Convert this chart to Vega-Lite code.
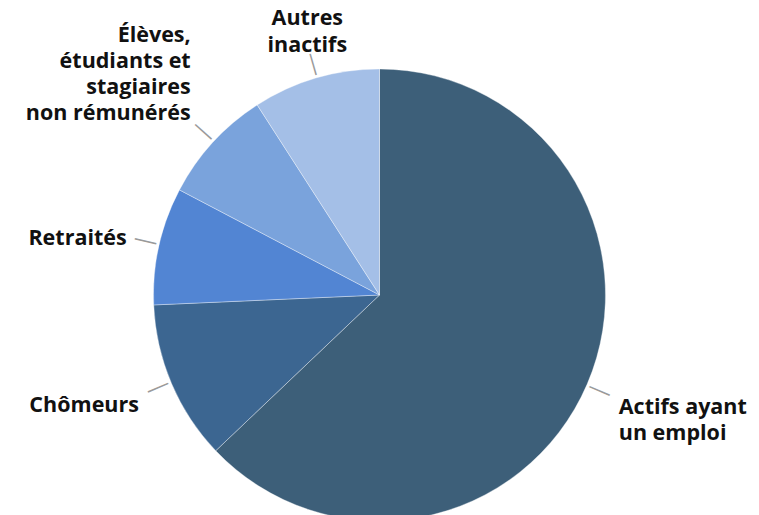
{
  "$schema": "https://vega.github.io/schema/vega-lite/v6.json",
  "width": 759,
  "height": 440,
  "autosize": "none",
  "padding": {"left": 0, "top": 75, "right": 0, "bottom": 0},
  "background": "white",
  "view": {"stroke": null},
  "data": {
    "values": [
      {"categorie": "Actifs ayant un emploi", "label": "Actifs ayant\nun emploi", "part": 62.9},
      {"categorie": "Chômeurs", "label": "Chômeurs", "part": 11.4},
      {"categorie": "Retraités", "label": "Retraités", "part": 8.4},
      {"categorie": "Élèves, étudiants et stagiaires non rémunérés", "label": "Élèves,\nétudiants et\nstagiaires\nnon rémunérés", "part": 8.2},
      {"categorie": "Autres inactifs", "label": "Autres\ninactifs", "part": 9.1}
    ]
  },
  "transform": [{"window": [{"op": "row_number", "as": "rang"}]}],
  "encoding": {
    "theta": {"field": "part", "type": "quantitative", "stack": true},
    "order": {"field": "rang", "type": "quantitative"},
    "detail": {"field": "categorie", "type": "nominal"}
  },
  "layer": [
    {
      "mark": {"type": "arc", "radius": 226, "stroke": "#ffffff", "strokeWidth": 0.6, "strokeOpacity": 0.6},
      "encoding": {
        "color": {
          "field": "categorie",
          "type": "nominal",
          "scale": {
            "domain": ["Actifs ayant un emploi", "Chômeurs", "Retraités", "Élèves, étudiants et stagiaires non rémunérés", "Autres inactifs"],
            "range": ["#3d5f79", "#3c6691", "#5285d3", "#7aa3dc", "#a4bfe7"]
          },
          "legend": null
        }
      }
    },
    {
      "mark": {"type": "text", "radius": 240, "text": "—", "font": "Liberation Sans", "fontSize": 22, "color": "#9a9a9a", "align": "center", "baseline": "middle"},
      "encoding": {
        "angle": {
          "condition": [
            {"test": "datum.categorie === 'Chômeurs'", "value": 157},
            {"test": "datum.categorie === 'Retraités'", "value": 193},
            {"test": "datum.categorie === 'Élèves, étudiants et stagiaires non rémunérés'", "value": 222},
            {"test": "datum.categorie === 'Autres inactifs'", "value": 254}
          ],
          "value": 23
        }
      }
    },
    {
      "mark": {"type": "text", "radius": 256, "font": "Open Sans", "fontSize": 21.5, "fontWeight": "bold", "color": "#111111", "lineBreak": "\n", "lineHeight": 26, "align": "left", "baseline": "top", "dx": 4, "dy": 1},
      "encoding": {"text": {"condition": {"test": "datum.categorie === 'Actifs ayant un emploi'", "field": "label"}, "value": ""}}
    },
    {
      "mark": {"type": "text", "radius": 256, "font": "Open Sans", "fontSize": 21.5, "fontWeight": "bold", "color": "#111111", "lineBreak": "\n", "lineHeight": 26, "align": "right", "baseline": "top", "dx": -5},
      "encoding": {"text": {"condition": {"test": "datum.categorie === 'Chômeurs'", "field": "label"}, "value": ""}}
    },
    {
      "mark": {"type": "text", "radius": 256, "font": "Open Sans", "fontSize": 21.5, "fontWeight": "bold", "color": "#111111", "lineBreak": "\n", "lineHeight": 26, "align": "right", "baseline": "middle", "dx": -3},
      "encoding": {"text": {"condition": {"test": "datum.categorie === 'Retraités'", "field": "label"}, "value": ""}}
    },
    {
      "mark": {"type": "text", "radius": 256, "font": "Open Sans", "fontSize": 21.5, "fontWeight": "bold", "color": "#111111", "lineBreak": "\n", "lineHeight": 26, "align": "right", "baseline": "bottom", "dy": -75},
      "encoding": {"text": {"condition": {"test": "datum.categorie === 'Élèves, étudiants et stagiaires non rémunérés'", "field": "label"}, "value": ""}}
    },
    {
      "mark": {"type": "text", "radius": 256, "font": "Open Sans", "fontSize": 21.5, "fontWeight": "bold", "color": "#111111", "lineBreak": "\n", "lineHeight": 27, "align": "center", "baseline": "bottom", "dy": -19},
      "encoding": {"text": {"condition": {"test": "datum.categorie === 'Autres inactifs'", "field": "label"}, "value": ""}}
    }
  ]
}
